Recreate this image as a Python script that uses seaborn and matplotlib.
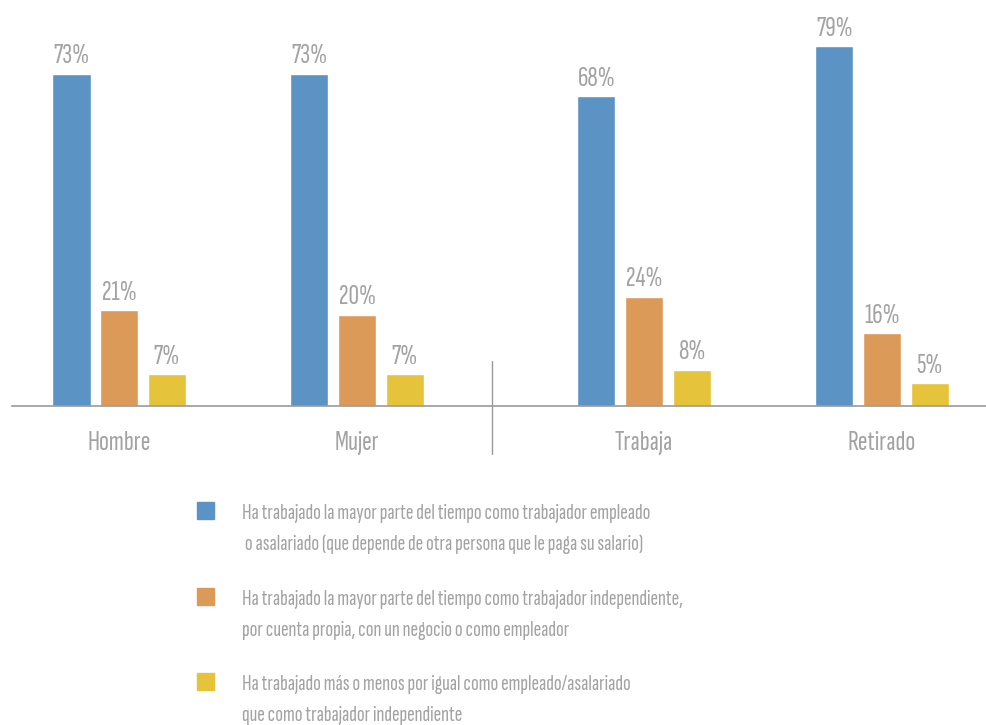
import matplotlib
matplotlib.use("Agg")
import matplotlib.pyplot as plt
from matplotlib import font_manager
from matplotlib.patches import Rectangle
import seaborn as sns
import pandas as pd

# data
groups = ["Hombre", "Mujer", "Trabaja", "Retirado"]
group_pos = [0.0, 1.0, 2.206, 3.206]   # gap between the two blocks
series = [
    "Ha trabajado la mayor parte del tiempo como trabajador empleado\n o asalariado (que depende de otra persona que le paga su salario)",
    "Ha trabajado la mayor parte del tiempo como trabajador independiente,\npor cuenta propia, con un negocio o como empleador",
    "Ha trabajado más o menos por igual como empleado/asalariado\nque como trabajador independiente",
]
asalariado = [73, 73, 68, 79]
independiente = [21, 20, 24, 16]
ambos = [7, 7, 8, 5]
colors = ["#5A93C4", "#DC9A59", "#E5C33A"]
text_gray = "#a3a3a3"

sns.set_theme(style="white")
names = {f.name for f in font_manager.fontManager.ttflist}
prefs = ["Sofia Sans Extra Condensed", "Pathway Gothic One", "Barlow Condensed",
         "Roboto Condensed", "Liberation Sans Narrow", "Roboto"]
main_font = next(f for f in prefs + ["DejaVu Sans"] if f in names or f == "DejaVu Sans")
plt.rcParams["font.family"] = [main_font, "DejaVu Sans"]
plt.rcParams["font.weight"] = 300

rows = []
for vals, s in zip([asalariado, independiente, ambos], series):
    for g, p, v in zip(groups, group_pos, vals):
        rows.append({"grupo": g, "pos": p, "serie": s, "valor": v})
df = pd.DataFrame(rows)

W, H = 986, 725
fig = plt.figure(figsize=(W / 100, H / 100), dpi=100)
ax = fig.add_axes([12 / W, (H - 406) / H, 1 - 12 / W, 406 / H])

sns.barplot(data=df, x="pos", y="valor", hue="serie", hue_order=series,
            palette=colors, native_scale=True, width=0.6, gap=0.2,
            legend=False, ax=ax, saturation=1, errorbar=None)

for cont in ax.containers:
    ax.bar_label(cont, fmt="{:.0f}%", padding=4, fontsize=21, color=text_gray)

ax.set_xlim(-0.45, 3.643)
ax.set_ylim(0, 89.2)
ax.set_xticks(group_pos)
ax.set_xticklabels(groups, fontsize=21, color=text_gray)
ax.set_yticks([])
ax.set_xlabel("")
ax.set_ylabel("")
ax.tick_params(axis="x", length=0, pad=18)
for side in ["top", "left", "right"]:
    ax.spines[side].set_visible(False)
ax.spines["bottom"].set_color("#9a9a9a")
ax.spines["bottom"].set_linewidth(1.2)

# separator between the two blocks
sep_x = 1.567
ax.plot([sep_x, sep_x], [9.9, -10.5], color="#9a9a9a", lw=1.0, clip_on=False)

# legend drawn by hand: square aligned with the first text line
legend_base = [519, 605, 690]
line_gap = 31
for s, c, y in zip(series, colors, legend_base):
    fig.patches.append(Rectangle((197 / W, (H - y) / H), 17 / W, 17 / H,
                                 transform=fig.transFigure, color=c))
    for k, line in enumerate(s.split("\n")):
        fig.text(242 / W, (H - y - k * line_gap) / H, line, fontsize=16.5,
                 color=text_gray, va="baseline", ha="left")

fig.savefig("out.png", dpi=100)
